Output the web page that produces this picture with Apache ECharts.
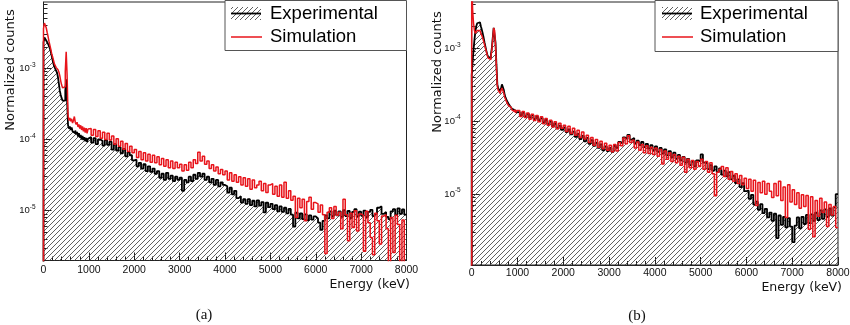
<!DOCTYPE html>
<html><head><meta charset="utf-8">
<script src="https://cdn.jsdelivr.net/npm/echarts@6/dist/echarts.min.js"></script>
<style>html,body{margin:0;padding:0;background:#fff}#c{width:850px;height:325px}</style>
</head><body><div id="c"></div>
<script>
// ---------- DATA ----------
// bin lower edges (keV): 20 keV bins below 1000 keV, 50 keV bins above
const lowBinWidth = 20, highBinWidth = 50, eSplit = 1000, eMax = 8000;
const xTicks = [0,1000,2000,3000,4000,5000,6000,7000,8000];
const yTicksA = [1e-5, 1e-4, 1e-3];
const yTicksB = [1e-5, 1e-4, 1e-3];

// Panel (a)
const expA_low = [2.3e-3,2.7e-3,2.6e-3,2.45e-3,2.3e-3,2.2e-3,2.05e-3,1.9e-3,1.7e-3,1.5e-3,
 1.3e-3,1.15e-3,1.05e-3,9.8e-4,9.4e-4,8.6e-4,7.4e-4,6.0e-4,4.8e-4,4.2e-4,
 3.8e-4,3.5e-4,3.3e-4,3.5e-4,4.8e-4,7.0e-4,3.5e-4,1.6e-4,1.42e-4,1.52e-4,
 1.36e-4,1.48e-4,1.3e-4,1.38e-4,1.22e-4,1.34e-4,1.18e-4,1.28e-4,1.1e-4,1.22e-4,
 1.06e-4,1.16e-4,1.0e-4,1.12e-4,9.8e-5,1.08e-4,9.4e-5,1.05e-4,9.2e-5,1.02e-4];
const simA_low = [3.6e-3,4.3e-3,4.2e-3,3.7e-3,3.2e-3,2.8e-3,2.4e-3,2.1e-3,1.85e-3,1.6e-3,
 1.45e-3,1.3e-3,1.15e-3,1.08e-3,1.02e-3,1.0e-3,9.5e-4,8.8e-4,7.8e-4,6.6e-4,
 5.8e-4,5.3e-4,5.1e-4,5.5e-4,9.0e-4,1.7e-3,8.0e-4,2.2e-4,1.85e-4,2.0e-4,
 1.8e-4,1.95e-4,1.7e-4,1.85e-4,2.1e-4,1.75e-4,1.62e-4,1.75e-4,1.5e-4,1.62e-4,
 1.42e-4,1.58e-4,1.36e-4,1.52e-4,1.3e-4,1.46e-4,1.25e-4,1.44e-4,1.22e-4,1.4e-4];
const expA_high = [1.08e-4,9.0e-5,1.04e-4,8.6e-5,1.0e-4,9.6e-5,8.2e-5,9.8e-5,8.4e-5,9.3e-5,
 7.2e-5,8.6e-5,7.0e-5,7.8e-5,6.4e-5,7.4e-5,5.8e-5,6.6e-5,6.0e-5,5.1e-5,
 5.2e-5,4.2e-5,4.7e-5,3.9e-5,4.5e-5,3.6e-5,4.2e-5,3.5e-5,3.9e-5,3.3e-5,
 3.6e-5,2.9e-5,3.3e-5,2.7e-5,3.4e-5,2.8e-5,3.1e-5,2.6e-5,3.0e-5,2.7e-5,
 2.9e-5,1.9e-5,2.7e-5,2.5e-5,3.0e-5,2.6e-5,3.2e-5,2.8e-5,3.4e-5,3.0e-5,
 3.3e-5,2.7e-5,3.0e-5,2.5e-5,2.8e-5,2.3e-5,2.7e-5,2.2e-5,2.5e-5,2.3e-5,
 2.2e-5,1.8e-5,2.1e-5,1.7e-5,1.9e-5,1.5e-5,1.6e-5,1.3e-5,1.45e-5,1.25e-5,
 1.45e-5,1.2e-5,1.38e-5,1.15e-5,1.4e-5,1.18e-5,1.32e-5,9.5e-6,1.3e-5,1.12e-5,
 1.25e-5,1.05e-5,1.2e-5,9.8e-6,1.15e-5,9.6e-6,1.1e-5,9.2e-6,1.06e-5,8.8e-6,
 6.0e-6,9.4e-6,7.8e-6,9.2e-6,7.6e-6,8.9e-6,7.3e-6,8.6e-6,7.5e-6,8.3e-6,
 7.8e-6,6.8e-6,5.4e-6,7.2e-6,8.6e-6,7.8e-6,9.8e-6,8.4e-6,1.0e-5,8.6e-6,
 9.8e-6,8.2e-6,1.02e-5,8.4e-6,9.9e-6,7.9e-6,9.6e-6,1.05e-5,8.3e-6,9.7e-6,
 8.5e-6,1.0e-5,8.1e-6,9.6e-6,1.03e-5,8.4e-6,9.0e-6,1.1e-5,1.15e-5,9.0e-6,
 9.6e-6,8.2e-6,7.6e-6,9.8e-6,1.05e-5,8.8e-6,1.08e-5,9.0e-6,1.04e-5,8.8e-6];
const simA_high = [1.42e-4,1.15e-4,1.38e-4,1.1e-4,1.32e-4,1.04e-4,1.26e-4,1.0e-4,1.22e-4,9.8e-5,
 1.12e-4,8.6e-5,1.02e-4,8.0e-5,9.4e-5,7.3e-5,8.8e-5,6.8e-5,8.0e-5,6.5e-5,
 7.2e-5,5.6e-5,6.8e-5,5.2e-5,6.5e-5,5.0e-5,6.2e-5,4.8e-5,6.0e-5,4.7e-5,
 5.7e-5,4.4e-5,5.4e-5,4.2e-5,5.2e-5,4.0e-5,5.0e-5,3.9e-5,4.8e-5,4.0e-5,
 4.5e-5,3.6e-5,4.4e-5,3.7e-5,4.8e-5,4.0e-5,5.2e-5,4.6e-5,6.6e-5,5.0e-5,
 5.8e-5,4.5e-5,5.0e-5,3.9e-5,4.4e-5,3.6e-5,4.1e-5,3.3e-5,3.8e-5,3.2e-5,
 3.6e-5,2.7e-5,3.4e-5,2.6e-5,3.2e-5,2.5e-5,3.0e-5,2.3e-5,2.9e-5,2.2e-5,
 2.8e-5,2.0e-5,2.7e-5,2.1e-5,2.3e-5,2.6e-5,1.9e-5,2.4e-5,1.8e-5,2.3e-5,
 2.4e-5,1.7e-5,2.2e-5,1.6e-5,2.3e-5,1.55e-5,2.5e-5,1.5e-5,1.9e-5,1.4e-5,
 1.6e-5,8.0e-6,1.5e-5,1.1e-5,1.45e-5,7.2e-6,1.35e-5,1.55e-5,1.05e-5,1.3e-5,
 1.25e-5,9.5e-6,1.2e-5,8.8e-6,2.5e-6,9.5e-6,1.1e-5,7.8e-6,1.15e-5,8.6e-6,
 9.5e-6,5.6e-6,1.45e-5,8.8e-6,3.8e-6,9.2e-6,5.8e-6,1.0e-5,5.2e-6,9.0e-6,
 8.6e-6,2.7e-6,9.8e-6,6.8e-6,4.2e-6,2.4e-6,9.2e-6,7.2e-6,3.4e-6,8.4e-6,
 8.8e-6,5.6e-6,1.5e-6,8.0e-6,2.6e-6,8.6e-6,6.4e-6,1.4e-6,7.4e-6,1.8e-6];

// Panel (b)
const expB_low = [4.3e-4,6.5e-4,9.5e-4,1.3e-3,1.7e-3,2.0e-3,2.2e-3,2.3e-3,2.27e-3,2.15e-3,
 2.0e-3,1.8e-3,1.6e-3,1.4e-3,1.2e-3,1.05e-3,9.2e-4,8.2e-4,7.6e-4,7.3e-4,
 7.4e-4,8.2e-4,1.0e-3,1.4e-3,1.9e-3,1.85e-3,1.2e-3,6.0e-4,3.2e-4,2.8e-4,
 2.7e-4,2.6e-4,2.8e-4,3.2e-4,3.3e-4,2.7e-4,2.3e-4,2.1e-4,1.95e-4,1.85e-4,
 1.75e-4,1.65e-4,1.6e-4,1.55e-4,1.48e-4,1.45e-4,1.42e-4,1.38e-4,1.35e-4,1.32e-4];
const simB_low = [9.0e-3,3.4e-3,2.2e-3,1.75e-3,1.6e-3,1.65e-3,1.75e-3,1.78e-3,1.75e-3,1.68e-3,
 1.6e-3,1.5e-3,1.38e-3,1.25e-3,1.12e-3,1.0e-3,9.0e-4,8.0e-4,7.3e-4,6.9e-4,
 7.0e-4,7.8e-4,9.5e-4,1.35e-3,1.9e-3,1.75e-3,1.1e-3,5.5e-4,3.0e-4,2.65e-4,
 2.5e-4,2.4e-4,2.65e-4,2.85e-4,2.7e-4,2.45e-4,2.15e-4,2.05e-4,1.85e-4,1.8e-4,
 1.65e-4,1.62e-4,1.55e-4,1.58e-4,1.42e-4,1.5e-4,1.36e-4,1.45e-4,1.3e-4,1.4e-4];
const expB_high = [1.34e-4,1.2e-4,1.31e-4,1.16e-4,1.26e-4,1.12e-4,1.21e-4,1.07e-4,1.16e-4,1.03e-4,
 1.1e-4,9.6e-5,1.04e-4,9.1e-5,9.9e-5,8.5e-5,9.3e-5,8.0e-5,8.7e-5,7.6e-5,
 8.2e-5,7.1e-5,7.7e-5,6.6e-5,7.2e-5,6.1e-5,6.7e-5,5.7e-5,6.3e-5,5.3e-5,
 5.9e-5,4.9e-5,5.5e-5,4.6e-5,5.1e-5,4.3e-5,4.8e-5,4.0e-5,4.5e-5,3.9e-5,
 4.3e-5,3.8e-5,4.6e-5,4.3e-5,5.2e-5,5.0e-5,6.0e-5,5.7e-5,6.5e-5,5.6e-5,
 5.9e-5,5.0e-5,5.4e-5,4.7e-5,5.2e-5,4.4e-5,4.9e-5,4.2e-5,4.7e-5,4.0e-5,
 4.5e-5,3.8e-5,4.3e-5,3.6e-5,4.1e-5,3.4e-5,3.9e-5,3.2e-5,3.7e-5,3.05e-5,
 3.45e-5,2.9e-5,3.25e-5,2.7e-5,3.05e-5,2.5e-5,2.85e-5,2.4e-5,2.9e-5,2.8e-5,
 3.5e-5,2.7e-5,2.7e-5,2.2e-5,2.5e-5,2.1e-5,2.4e-5,2.0e-5,2.25e-5,1.85e-5,
 2.1e-5,1.75e-5,2.0e-5,1.6e-5,1.8e-5,1.42e-5,1.6e-5,1.25e-5,1.42e-5,1.1e-5,
 1.12e-5,8.6e-6,9.8e-6,7.2e-6,7.9e-6,6.1e-6,7.3e-6,5.5e-6,6.3e-6,4.8e-6,
 5.6e-6,4.3e-6,5.4e-6,2.5e-6,5.1e-6,3.8e-6,4.9e-6,3.5e-6,4.7e-6,3.6e-6,
 2.2e-6,3.7e-6,4.8e-6,3.4e-6,4.9e-6,3.9e-6,5.2e-6,4.0e-6,5.3e-6,4.3e-6,
 5.6e-6,4.4e-6,6.0e-6,4.6e-6,6.2e-6,4.9e-6,6.4e-6,5.1e-6,6.6e-6,1.0e-5];
const simB_high = [1.4e-4,1.16e-4,1.36e-4,1.12e-4,1.3e-4,1.06e-4,1.25e-4,1.02e-4,1.2e-4,9.8e-5,
 1.15e-4,9.2e-5,1.09e-4,8.8e-5,1.03e-4,8.3e-5,9.8e-5,7.9e-5,9.4e-5,8.0e-5,
 8.8e-5,7.2e-5,8.5e-5,6.8e-5,8.0e-5,6.4e-5,7.5e-5,6.0e-5,7.1e-5,5.7e-5,
 6.4e-5,5.1e-5,6.0e-5,4.7e-5,5.6e-5,4.4e-5,5.3e-5,4.2e-5,5.0e-5,4.0e-5,
 4.7e-5,3.8e-5,4.8e-5,3.9e-5,5.1e-5,4.6e-5,5.9e-5,4.9e-5,6.3e-5,5.1e-5,
 5.5e-5,4.3e-5,5.2e-5,4.0e-5,4.8e-5,3.7e-5,4.6e-5,3.6e-5,4.4e-5,3.5e-5,
 4.3e-5,3.3e-5,4.1e-5,2.6e-5,3.9e-5,3.0e-5,3.7e-5,2.8e-5,3.5e-5,2.7e-5,
 3.3e-5,2.5e-5,3.2e-5,2.0e-5,3.0e-5,2.3e-5,2.9e-5,2.2e-5,2.8e-5,2.4e-5,
 3.0e-5,2.2e-5,2.8e-5,2.0e-5,2.7e-5,1.9e-5,9.5e-6,2.0e-5,2.2e-5,2.4e-5,
 1.75e-5,2.3e-5,1.6e-5,2.05e-5,1.5e-5,1.9e-5,1.4e-5,1.8e-5,1.35e-5,1.65e-5,
 1.2e-5,1.6e-5,1.1e-5,1.55e-5,7.0e-6,1.45e-5,1.05e-5,1.5e-5,1.0e-5,1.4e-5,
 1.1e-5,9.0e-6,1.4e-5,9.5e-6,1.5e-5,8.2e-6,1.25e-5,4.8e-6,1.35e-5,7.8e-6,
 1.15e-5,7.2e-6,1.05e-5,6.4e-6,9.8e-6,6.8e-6,9.6e-6,3.3e-6,9.2e-6,2.6e-6,
 8.2e-6,5.0e-6,8.8e-6,5.6e-6,7.8e-6,3.6e-6,7.2e-6,5.2e-6,6.8e-6,3.5e-6];

// ---------- BUILD ----------
const edges = [];
for (let e = 0; e < eSplit; e += lowBinWidth) edges.push(e);
for (let e = eSplit; e < eMax; e += highBinWidth) edges.push(e);

function histPoints(low, high) {
  const v = low.concat(high);
  const pts = [[0, 1e-9]];
  for (let i = 0; i < v.length; i++) pts.push([edges[i], v[i]]);
  pts.push([eMax, v[v.length - 1]]);
  return pts;
}

function hatchCanvas(step, color, lw) {
  const c = document.createElement('canvas');
  c.width = step; c.height = step;
  const g = c.getContext('2d');
  g.strokeStyle = color; g.lineWidth = lw;
  g.beginPath();
  g.moveTo(-1, step + 1); g.lineTo(step + 1, -1);
  g.moveTo(-1, 1); g.lineTo(1, -1);
  g.moveTo(step - 1, step + 1); g.lineTo(step + 1, step - 1);
  g.stroke();
  return c;
}
const hatch = { image: hatchCanvas(5, '#444', 0.85), repeat: 'repeat' };

function minorLogTicks(min, max) {
  const out = [];
  for (let p = -7; p <= -1; p++) for (let k = 2; k <= 9; k++) {
    const v = k * Math.pow(10, p);
    if (v >= min * 0.9999 && v <= max) out.push(v);
  }
  return out;
}

const axisColor = '#222';
const RED = '#e8141b';
const yLabelFmt = v => '{b|10}{s|' + Math.round(Math.log10(v)) + '}';
const yRich = {
  b: { fontFamily: 'Liberation Sans', fontSize: 9.5, lineHeight: 14, color: '#111' },
  s: { fontFamily: 'Liberation Sans', fontSize: 6.5, verticalAlign: 'top', color: '#111' }
};

const panels = [
  { left: 43.5, top: 2, width: 363, height: 258.5, yMin: 2e-6, yMax: 8.5e-3, yTicks: yTicksA,
    exp: histPoints(expA_low, expA_high), sim: histPoints(simA_low, simA_high), labMargin: 8, xMargin: 4 },
  { left: 471.7, top: 2, width: 366.3, height: 263, yMin: 1.07e-6, yMax: 4.3e-3, yTicks: yTicksB,
    exp: histPoints(expB_low, expB_high), sim: histPoints(simB_low, simB_high), labMargin: 11, xMargin: 3 }
];

const grid = [], xAxis = [], yAxis = [], series = [];
panels.forEach((p, i) => {
  grid.push({ left: p.left, top: p.top, width: p.width, height: p.height, show: true,
    borderColor: axisColor, borderWidth: 1, containLabel: false, outerBoundsMode: 'none' });
  xAxis.push({ gridIndex: i, type: 'value', min: 0, max: eMax, interval: 1000,
    axisLine: { lineStyle: { color: axisColor, width: 1 } },
    axisTick: { inside: true, length: 8, lineStyle: { color: axisColor } },
    minorTick: { show: true, splitNumber: 5, length: 4, lineStyle: { color: axisColor } },
    splitLine: { show: false },
    axisLabel: { customValues: xTicks, formatter: v => String(v), fontFamily: 'Liberation Sans', fontSize: 10.5,
      color: '#111', margin: p.xMargin, showMinLabel: true, showMaxLabel: true } });
  yAxis.push({ gridIndex: i, type: 'log', logBase: 10, min: p.yMin, max: p.yMax, position: 'left',
    axisLine: { show: true, lineStyle: { color: axisColor, width: 1 } },
    axisTick: { inside: true, length: 8, customValues: p.yTicks, lineStyle: { color: axisColor } },
    axisLabel: { customValues: p.yTicks, formatter: yLabelFmt, rich: yRich, margin: p.labMargin },
    splitLine: { show: false } });
  yAxis.push({ gridIndex: i, type: 'log', logBase: 10, min: p.yMin, max: p.yMax, position: 'left', offset: 0,
    axisLine: { show: false },
    axisTick: { inside: true, length: 4, customValues: minorLogTicks(p.yMin, p.yMax), lineStyle: { color: axisColor } },
    axisLabel: { show: false }, splitLine: { show: false } });
  series.push({ name: 'Experimental', type: 'line', xAxisIndex: i, yAxisIndex: 2 * i, data: p.exp,
    step: 'end', symbol: 'none', showSymbol: false, clip: true, silent: true,
    lineStyle: { color: '#000', width: 1.8 },
    areaStyle: { color: hatch, origin: 'start', opacity: 1 } });
  series.push({ name: 'Simulation', type: 'line', xAxisIndex: i, yAxisIndex: 2 * i, data: p.sim,
    step: 'end', symbol: 'none', showSymbol: false, clip: true, silent: true,
    lineStyle: { color: RED, width: 1.5 } });
});

function legendGraphics(x0, x1, y1, iconX, textX) {
  return [
    { type: 'rect', shape: { x: x0, y: 0.5, width: x1 - x0, height: y1 - 0.5 },
      style: { fill: '#fff', stroke: '#555', lineWidth: 1 }, z: 10 },
    { type: 'rect', shape: { x: iconX, y: 7, width: 30, height: 13 }, style: { fill: hatch }, z: 11 },
    { type: 'line', shape: { x1: iconX, y1: 13.5, x2: iconX + 30, y2: 13.5 }, style: { stroke: '#000', lineWidth: 1.8 }, z: 12 },
    { type: 'line', shape: { x1: iconX, y1: 37, x2: iconX + 31, y2: 37 }, style: { stroke: RED, lineWidth: 1.5 }, z: 12 },
    { type: 'text', x: textX, y: 13.5, style: { text: 'Experimental', fontFamily: 'Liberation Sans', fontSize: 18.5,
      fill: '#000', verticalAlign: 'middle', align: 'left' }, z: 12 },
    { type: 'text', x: textX, y: 37, style: { text: 'Simulation', fontFamily: 'Liberation Sans', fontSize: 18.5,
      fill: '#000', verticalAlign: 'middle', align: 'left' }, z: 12 }
  ];
}
const txt = (t, x, y, size, family, extra) => Object.assign({ type: 'text', x, y,
  style: { text: t, fontFamily: family, fontSize: size, fill: '#111', align: 'center', verticalAlign: 'middle' }, z: 12 }, extra || {});

const graphic = [].concat(
  legendGraphics(225, 406.5, 50.5, 231, 270),
  legendGraphics(655, 838, 51.5, 662, 700),
  [
    txt('Normalized counts', 11, 70, 13, 'DejaVu Sans', { rotation: Math.PI / 2 }),
    txt('Normalized counts', 438, 72, 13, 'DejaVu Sans', { rotation: Math.PI / 2 }),
    { type: 'text', x: 410, y: 285, style: { text: 'Energy (keV)', fontFamily: 'DejaVu Sans', fontSize: 12.5, fill: '#111', align: 'right', verticalAlign: 'middle' } },
    { type: 'text', x: 842, y: 288, style: { text: 'Energy (keV)', fontFamily: 'DejaVu Sans', fontSize: 12.5, fill: '#111', align: 'right', verticalAlign: 'middle' } },
    txt('(a)', 204, 315, 15, 'Liberation Serif'),
    txt('(b)', 637, 316, 15, 'Liberation Serif')
  ]
);

const chart = echarts.init(document.getElementById('c'), null, { renderer: 'canvas' });
chart.setOption({ animation: false, backgroundColor: '#fff', grid, xAxis, yAxis, series, graphic });
</script></body></html>
